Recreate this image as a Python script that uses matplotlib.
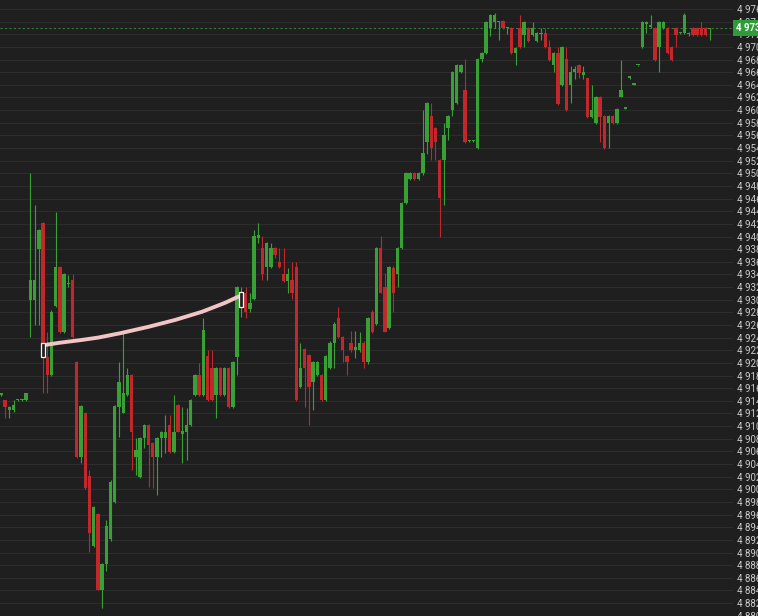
#!/usr/bin/env python3
"""Dark intraday candlestick chart with a drawn trend curve."""

import matplotlib

matplotlib.use("Agg")
import matplotlib.pyplot as plt
import matplotlib.transforms as mtransforms
import numpy as np
from matplotlib.patches import Rectangle
from matplotlib.ticker import FuncFormatter

# OHLC per bar, left to right (one bar per slot)
opens = [
    4915.0, 4914.1, 4912.6, 4912.5, 4914.1, 4914.1, 4914.1, 4930.0, 4930.0, 4938.0,
    4942.1, 4920.9, 4918.1, 4929.0, 4935.2, 4924.9, 4932.5, 4933.1, 4920.1, 4905.1,
    4912.1, 4902.1, 4891.0, 4896.1, 4884.1, 4888.2, 4892.1, 4898.0, 4913.0, 4912.1,
    4914.9, 4918.1, 4905.1, 4902.0, 4908.1, 4910.2, 4907.3, 4905.1, 4908.1, 4908.1,
    4910.2, 4905.9, 4913.3, 4908.8, 4909.1, 4910.2, 4914.9, 4918.1, 4914.9, 4921.1,
    4919.2, 4914.9, 4919.2, 4914.9, 4919.2, 4913.0, 4920.9, 4929.5, 4931.1, 4928.5,
    4930.1, 4939.8, 4938.2, 4935.2, 4935.2, 4938.2, 4936.0, 4934.1, 4933.0, 4933.1,
    4935.2, 4916.2, 4922.2, 4921.2, 4917.0, 4918.1, 4918.1, 4914.1, 4919.2, 4923.2,
    4927.1, 4924.1, 4921.1, 4923.2, 4922.0, 4922.0, 4923.2, 4920.1, 4928.1, 4926.2,
    4938.2, 4932.0, 4925.5, 4935.0, 4934.1, 4938.2, 4945.3, 4949.1, 4950.0, 4949.1,
    4950.0, 4955.0, 4959.1, 4957.2, 4952.1, 4952.1, 4957.2, 4960.0, 4961.1, 4966.0,
    4963.2, 4955.1, 4955.1, 4954.0, 4968.1, 4969.0, 4973.0, 4973.9, 4973.9, 4974.1,
    4973.0, 4973.0, 4969.0, 4973.0, 4971.9, 4973.0, 4971.9, 4970.9, 4972.0, 4972.2,
    4970.0, 4967.1, 4969.0, 4964.0, 4968.1, 4964.0, 4966.0, 4967.1, 4965.5, 4965.1,
    4958.9, 4958.0, 4962.1, 4959.1, 4958.0, 4959.1, 4958.0, 4962.1, 4960.2, 4965.1,
    4964.0, 4967.1, 4970.0, 4973.7, 4973.2, 4973.0, 4970.0, 4973.0, 4973.0, 4970.0,
    4973.0, 4972.2, 4972.2, 4972.0, 4973.0, 4973.0, 4973.0, 4973.0, 4972.8,
]
highs = [
    4915.3, 4914.2, 4913.2, 4914.1, 4914.3, 4914.3, 4915.3, 4950.0, 4945.0, 4941.2,
    4942.3, 4924.9, 4928.3, 4943.9, 4935.4, 4934.3, 4933.9, 4934.1, 4920.3, 4913.4,
    4912.3, 4903.1, 4897.4, 4896.3, 4888.4, 4895.1, 4901.4, 4913.4, 4920.1, 4924.9,
    4919.2, 4918.3, 4908.1, 4908.3, 4910.4, 4910.4, 4907.5, 4908.3, 4909.3, 4911.8,
    4911.8, 4914.9, 4913.5, 4913.0, 4912.9, 4914.3, 4918.3, 4920.0, 4927.1, 4922.0,
    4922.0, 4919.4, 4919.4, 4919.4, 4919.4, 4920.3, 4932.2, 4932.0, 4932.0, 4931.1,
    4941.0, 4942.1, 4940.1, 4939.2, 4939.0, 4938.4, 4938.2, 4938.2, 4935.0, 4936.0,
    4936.0, 4923.2, 4922.4, 4921.4, 4920.3, 4920.3, 4918.3, 4921.3, 4923.4, 4926.4,
    4928.8, 4924.3, 4921.3, 4925.1, 4925.1, 4924.9, 4923.4, 4927.3, 4928.3, 4938.4,
    4940.1, 4934.2, 4935.4, 4935.4, 4938.4, 4945.5, 4950.2, 4950.2, 4950.2, 4950.2,
    4960.0, 4961.3, 4961.1, 4957.4, 4952.3, 4958.0, 4959.3, 4966.2, 4967.3, 4967.3,
    4968.1, 4955.2, 4955.2, 4968.3, 4969.2, 4974.1, 4975.2, 4975.3, 4974.1, 4974.3,
    4973.2, 4973.2, 4970.0, 4975.1, 4974.1, 4973.2, 4973.9, 4972.4, 4973.0, 4973.0,
    4971.1, 4969.2, 4970.0, 4970.2, 4970.0, 4967.0, 4967.0, 4967.3, 4967.0, 4965.3,
    4964.0, 4962.3, 4962.3, 4959.3, 4959.3, 4959.3, 4960.4, 4967.9, 4960.3, 4965.2,
    4964.1, 4967.2, 4974.1, 4974.1, 4975.1, 4973.2, 4974.1, 4974.1, 4973.2, 4970.2,
    4973.2, 4972.4, 4975.3, 4972.4, 4973.2, 4973.2, 4973.9, 4973.2, 4973.0,
]
lows = [
    4914.8, 4911.3, 4911.3, 4912.3, 4914.0, 4914.0, 4914.0, 4924.1, 4926.0, 4926.0,
    4915.2, 4915.2, 4918.0, 4928.8, 4924.7, 4924.7, 4932.0, 4924.0, 4905.0, 4904.2,
    4900.0, 4890.1, 4890.8, 4884.0, 4881.2, 4887.1, 4891.9, 4897.8, 4908.3, 4912.0,
    4914.7, 4903.1, 4902.3, 4901.8, 4906.5, 4900.4, 4900.2, 4899.1, 4905.1, 4905.7,
    4905.7, 4905.7, 4909.0, 4904.2, 4904.6, 4910.0, 4914.7, 4914.7, 4914.7, 4914.0,
    4914.0, 4911.3, 4914.7, 4914.7, 4912.8, 4912.8, 4918.1, 4927.3, 4927.1, 4928.1,
    4930.0, 4939.0, 4933.1, 4933.1, 4935.0, 4936.6, 4935.0, 4932.8, 4931.1, 4930.1,
    4913.9, 4916.0, 4913.0, 4910.2, 4912.6, 4917.9, 4913.9, 4913.9, 4919.0, 4919.2,
    4924.0, 4920.1, 4918.1, 4921.8, 4920.8, 4921.8, 4919.2, 4919.9, 4924.7, 4926.0,
    4931.0, 4924.9, 4925.3, 4928.1, 4932.0, 4938.0, 4945.1, 4948.9, 4948.9, 4948.9,
    4949.8, 4953.0, 4952.1, 4952.1, 4939.9, 4945.0, 4955.3, 4959.1, 4960.9, 4965.8,
    4954.8, 4955.0, 4955.0, 4953.8, 4967.6, 4968.8, 4971.7, 4973.0, 4971.1, 4972.8,
    4972.0, 4968.8, 4967.1, 4969.8, 4970.0, 4970.7, 4971.7, 4970.7, 4971.1, 4969.8,
    4967.7, 4966.0, 4960.8, 4963.8, 4959.8, 4961.1, 4965.0, 4965.1, 4965.0, 4958.7,
    4958.7, 4957.8, 4955.0, 4953.8, 4954.0, 4957.8, 4957.8, 4962.0, 4960.1, 4965.0,
    4963.9, 4967.0, 4969.8, 4972.2, 4973.0, 4967.7, 4966.0, 4972.8, 4968.8, 4967.7,
    4970.0, 4972.0, 4972.0, 4971.8, 4971.7, 4971.7, 4971.7, 4971.7, 4971.1,
]
closes = [
    4915.2, 4913.0, 4913.0, 4913.3, 4914.2, 4914.2, 4915.2, 4933.1, 4933.1, 4941.0,
    4922.5, 4918.1, 4928.1, 4935.2, 4924.9, 4934.1, 4932.6, 4924.1, 4905.1, 4913.2,
    4900.2, 4893.1, 4897.2, 4884.1, 4888.2, 4894.2, 4901.2, 4913.2, 4917.0, 4915.2,
    4918.1, 4909.1, 4906.2, 4908.1, 4910.2, 4907.0, 4905.1, 4908.1, 4909.1, 4909.1,
    4905.9, 4909.1, 4909.1, 4909.3, 4910.2, 4914.1, 4918.1, 4914.9, 4925.2, 4914.1,
    4914.1, 4919.2, 4914.9, 4919.2, 4913.0, 4920.1, 4932.0, 4930.5, 4928.1, 4929.5,
    4940.1, 4940.3, 4934.1, 4939.0, 4938.2, 4937.1, 4935.2, 4933.0, 4934.1, 4931.1,
    4914.1, 4919.2, 4919.2, 4916.2, 4920.1, 4920.1, 4914.1, 4921.1, 4923.2, 4926.2,
    4924.1, 4922.0, 4920.1, 4922.0, 4922.5, 4923.2, 4920.1, 4927.1, 4924.9, 4938.2,
    4931.1, 4924.9, 4935.2, 4931.1, 4938.2, 4945.3, 4950.0, 4950.0, 4949.1, 4950.0,
    4953.2, 4961.1, 4954.0, 4955.0, 4946.1, 4956.1, 4959.1, 4966.0, 4967.1, 4967.1,
    4955.0, 4955.1, 4955.1, 4968.1, 4969.0, 4973.9, 4975.1, 4975.1, 4973.9, 4973.0,
    4973.0, 4969.0, 4969.8, 4970.0, 4973.9, 4970.9, 4973.0, 4972.2, 4972.0, 4970.0,
    4967.9, 4969.0, 4961.0, 4970.0, 4960.0, 4966.0, 4966.5, 4965.9, 4966.0, 4958.9,
    4960.0, 4962.1, 4958.9, 4954.0, 4959.1, 4958.0, 4960.2, 4963.2, 4960.2, 4965.1,
    4964.0, 4967.1, 4973.9, 4973.9, 4973.5, 4967.9, 4973.9, 4973.9, 4969.0, 4967.9,
    4971.9, 4972.2, 4975.1, 4972.2, 4971.9, 4971.9, 4971.9, 4971.9, 4973.0,
]

# hand-drawn curve (bar index, price) and its two end handles
curve_x = [10, 14, 18.8, 23, 28.3, 34.9, 41.3, 47.7, 53.1, 56, 56.9]
curve_y = [4922.8, 4923.2, 4923.6, 4924.0, 4924.7, 4925.7, 4926.8, 4928.1, 4929.5, 4930.4, 4930.6]
handle_x = [10, 57]
handle_lo = [4920.9, 4928.8]
handle_hi = [4923.2, 4931.2]

last_price = 4973.0
y_ticks = np.arange(4880, 4978, 2)

BG = "#1f1f1f"
GRID = "#2e2e2e"
UP = "#39a036"
DOWN = "#c2282b"
LABEL = "#cccccc"

plt.rcParams["font.family"] = ["Roboto", "DejaVu Sans"]

fig = plt.figure(figsize=(7.58, 6.16), dpi=100, facecolor=BG)
ax = fig.add_axes([0, 0, 733 / 758, 1])
ax.set_facecolor(BG)

o = np.array(opens)
h = np.array(highs)
l = np.array(lows)
c = np.array(closes)
x = np.arange(len(o))
up = c >= o
colors = np.where(up, UP, DOWN)

ax.vlines(x, l, h, colors=colors, linewidth=0.8, zorder=3)
body_lo = np.minimum(o, c)
body_h = np.maximum(np.abs(c - o), 0.22)
ax.bar(x, body_h, bottom=body_lo, width=0.8, color=colors, linewidth=0, zorder=4)

ax.plot(curve_x, curve_y, color="#f2c4c4", linewidth=2.8, solid_capstyle="round", zorder=5)
for hx, lo, hi in zip(handle_x, handle_lo, handle_hi):
    ax.add_patch(Rectangle((hx - 0.45, lo), 0.9, hi - lo, facecolor=BG,
                           edgecolor="#f4f4f4", linewidth=0.9, zorder=6))

ax.axhline(last_price, color="#2f7d33", linewidth=0.8, dashes=(2, 2), zorder=2)

ax.set_xlim(-0.2, 173.5)
ax.set_ylim(4879.96, 4977.42)
ax.set_yticks(y_ticks)
ax.yaxis.set_major_formatter(FuncFormatter(lambda v, _: f"{int(v):,}".replace(",", " ")))
ax.yaxis.tick_right()
ax.tick_params(axis="y", length=0, pad=3, labelsize=7, labelcolor=LABEL)
ax.set_xticks([])
ax.grid(axis="y", color=GRID, linewidth=0.7)
ax.set_axisbelow(True)
for spine in ax.spines.values():
    spine.set_visible(False)

trans = mtransforms.blended_transform_factory(ax.transAxes, ax.transData)
ax.text(1.004, last_price, "4 973", transform=trans, ha="left", va="center",
        fontsize=7, fontweight="bold", color="white", zorder=10, clip_on=False,
        bbox=dict(boxstyle="square,pad=0.28", facecolor="#2e9c38", edgecolor="none"))

fig.savefig("out.png", dpi=100, facecolor=BG)
